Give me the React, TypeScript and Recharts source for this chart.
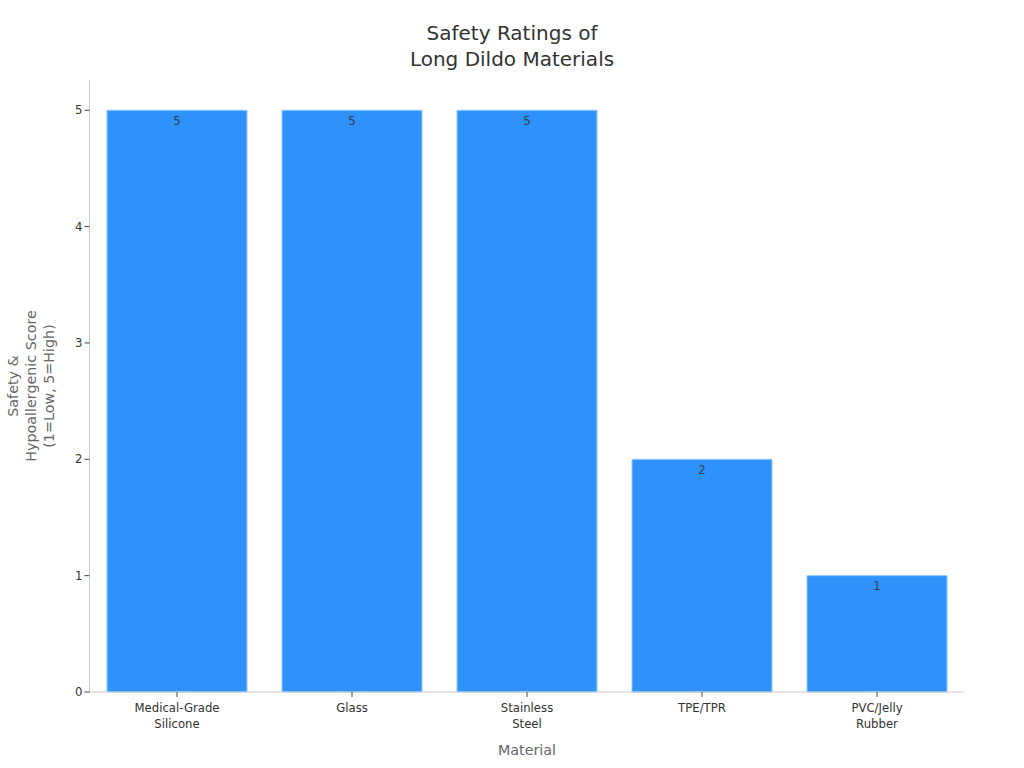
import React from "react";
import { BarChart, Bar, XAxis, YAxis, LabelList } from "recharts";

const categories = ["Medical-Grade\nSilicone", "Glass", "Stainless\nSteel", "TPE/TPR", "PVC/Jelly\nRubber"];
const scores = [5, 5, 5, 2, 1];
const yTicks = [0, 1, 2, 3, 4, 5];
const titleLines = ["Safety Ratings of", "Long Dildo Materials"];
const yLabelLines = ["Safety &", "Hypoallergenic Score", "(1=Low, 5=High)"];
const xLabel = "Material";

const data = categories.map((name, i) => ({ name, score: scores[i] }));
const FONT = "'DejaVu Sans', sans-serif";

const XTick = (props: any) => {
  const { x, y, payload } = props;
  const lines = String(payload.value).split("\n");
  return (
    <text x={x} y={y} textAnchor="middle" fontFamily={FONT} fontSize={11.7} fill="#333333">
      {lines.map((l: string, i: number) => (
        <tspan key={i} x={x} dy={i === 0 ? 13 : 16}>{l}</tspan>
      ))}
    </text>
  );
};

export default function App() {
  return (
    <div style={{ position: "absolute", left: 0, top: 0, width: 1024, height: 768, background: "#fff" }}>
      <BarChart
        width={1024}
        height={768}
        data={data}
        margin={{ top: 80, right: 59.5, bottom: 0, left: 0 }}
        barCategoryGap="10%"
      >
        <XAxis
          dataKey="name"
          height={76}
          interval={0}
          tick={<XTick />}
          tickSize={5}
          axisLine={{ stroke: "#cccccc" }}
          tickLine={{ stroke: "#444444" }}
        />
        <YAxis
          width={89.5}
          domain={[0, 5.26]}
          ticks={yTicks}
          tickSize={5}
          tick={{ fontFamily: FONT, fontSize: 11.7, fill: "#333333" }}
          axisLine={{ stroke: "#cccccc" }}
          tickLine={{ stroke: "#444444" }}
        />
        <Bar dataKey="score" fill="#2f91fa" stroke="#8ccaff" strokeWidth={1} isAnimationActive={false}>
          <LabelList dataKey="score" position="insideTop" offset={6} style={{ fontFamily: FONT, fontSize: 11.7, fill: "#333f4d" }} />
        </Bar>
        <text textAnchor="middle" fontFamily={FONT} fontSize={20} fill="#333333">
          {titleLines.map((l, i) => (
            <tspan key={i} x={512} y={40 + i * 25.5}>{l}</tspan>
          ))}
        </text>
        <text x={527} y={755} textAnchor="middle" fontFamily={FONT} fontSize={14.3} fill="#666666">{xLabel}</text>
        {yLabelLines.map((l, i) => (
          <text key={i} transform={`translate(${18 + i * 18},386) rotate(-90)`} textAnchor="middle" fontFamily={FONT} fontSize={14.3} fill="#666666">{l}</text>
        ))}
      </BarChart>
    </div>
  );
}
